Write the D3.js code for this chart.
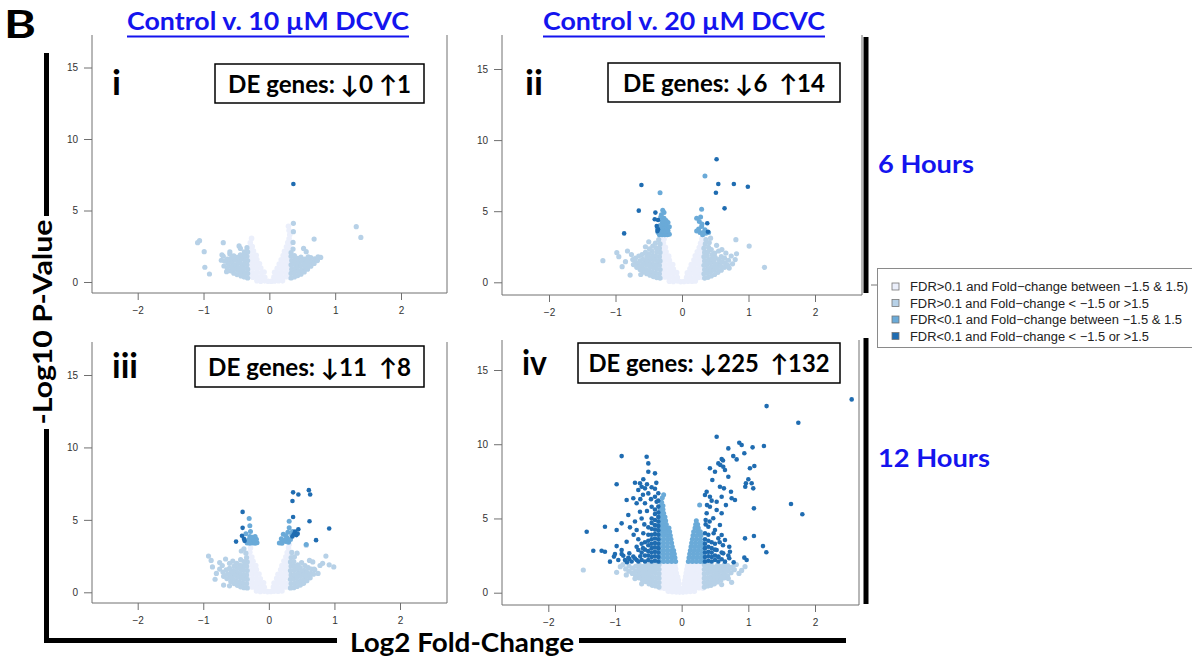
<!DOCTYPE html>
<html>
<head>
<meta charset="utf-8">
<script src="https://cdn.jsdelivr.net/npm/d3@7"></script>
<style>
  html, body { margin: 0; padding: 0; background: #ffffff; }
  svg { display: block; }
</style>
</head>
<body>
<svg id="fig" width="1192" height="658"></svg>
<script>
// ---------- axis ticks and labels ----------
const xTicks = [-2, -1, 0, 1, 2];
const yTicks = [0, 5, 10, 15];
const panelNumerals = ["i", "ii", "iii", "iv"];
const deDown = [0, 6, 11, 225];
const deUp = [1, 14, 8, 132];
const columnTitles = ["Control v. 10 \u00B5M DCVC", "Control v. 20 \u00B5M DCVC"];
const rowTitles = ["6 Hours", "12 Hours"];
const legendLabels = [
  "FDR>0.1 and Fold\u2212change between \u22121.5 & 1.5)",
  "FDR>0.1 and Fold\u2212change < \u22121.5 or >1.5",
  "FDR<0.1 and Fold\u2212change between \u22121.5 & 1.5",
  "FDR<0.1 and Fold\u2212change < \u22121.5 or >1.5"
];

// ---------- genes: [log2 fold-change, -log10 p-value] ----------
// Panel i: 6 h, 10 uM
const p1Ns = [[-0.19,0.09],[-0.13,0.06],[-0.07,0.08],[-0.02,0.05],[0.03,0.05],[0.08,0.07],[0.14,0.09],[0.2,0.08],
  [-0.31,0.36],[-0.25,0.33],[-0.19,0.37],[-0.13,0.34],[-0.07,0.32],[0.07,0.34],[0.13,0.36],[0.19,0.33],[0.25,0.37],[0.31,0.34],
  [-0.31,0.66],[-0.25,0.63],[-0.19,0.67],[-0.12,0.64],[-0.08,0.7],[0.08,0.68],[0.13,0.63],[0.19,0.66],[0.25,0.64],[0.31,0.67],
  [-0.31,0.95],[-0.25,0.97],[-0.19,0.94],[-0.13,0.98],[0.12,0.96],[0.18,0.93],[0.24,0.97],[0.3,0.95],
  [-0.31,1.24],[-0.25,1.27],[-0.19,1.25],[-0.15,1.28],[0.15,1.26],[0.2,1.23],[0.25,1.27],[0.31,1.25],
  [-0.31,1.55],[-0.25,1.53],[-0.19,1.57],[0.18,1.55],[0.24,1.58],[0.3,1.54],
  [-0.3,1.86],[-0.25,1.83],[-0.2,1.87],[0.21,1.85],[0.26,1.88],[0.31,1.84],
  [-0.3,2.15],[-0.24,2.17],[0.23,2.14],[0.28,2.17],
  [-0.29,2.45],[-0.26,2.48],[0.26,2.46],[0.31,2.44],
  [-0.29,2.74],[0.28,2.76],[0.31,2.73],
  [-0.27,3.05],[0.3,3.02],[0.31,3.3],[0.3,3.6],[0.29,3.9]];
const p1Fc = [[-0.33,0.28],[-0.33,0.6],[-0.33,0.9],[-0.34,1.2],[-0.33,1.5],[-0.34,1.8],[-0.33,2.1],[-0.34,2.4],
  [-0.38,0.35],[-0.38,0.65],[-0.39,0.95],[-0.38,1.25],[-0.38,1.55],[-0.39,1.85],[-0.38,2.1],
  [-0.43,0.42],[-0.44,0.72],[-0.43,1.02],[-0.44,1.32],[-0.43,1.62],[-0.44,1.9],
  [-0.49,0.52],[-0.48,0.82],[-0.49,1.12],[-0.48,1.42],[-0.49,1.72],
  [-0.54,0.62],[-0.53,0.92],[-0.54,1.22],[-0.53,1.52],[-0.54,1.82],
  [-0.59,0.78],[-0.58,1.08],[-0.59,1.38],[-0.58,1.66],[-0.6,1.95],
  [-0.64,0.98],[-0.63,1.3],[-0.64,1.6],[-0.69,1.12],[-0.68,1.46],[-0.7,1.8],[-0.73,1.52],[-0.72,1.9],
  [-1.06,2.89],[-1.09,2.75],[-0.99,2.12],[-0.98,1.03],[-0.91,0.56],[-0.7,2.75],[-0.46,2.52],[-0.44,2.35],[-0.65,0.72],[-0.6,2.1],
  [0.33,0.28],[0.33,0.6],[0.34,0.9],[0.33,1.2],[0.34,1.5],[0.33,1.8],
  [0.38,0.35],[0.38,0.65],[0.39,0.95],[0.38,1.25],[0.39,1.55],[0.38,1.85],
  [0.43,0.45],[0.44,0.75],[0.43,1.05],[0.44,1.35],[0.43,1.65],
  [0.48,0.55],[0.49,0.85],[0.48,1.15],[0.49,1.45],[0.48,1.75],
  [0.53,0.7],[0.54,1.0],[0.53,1.3],[0.54,1.6],[0.58,0.9],[0.59,1.2],[0.58,1.5],[0.59,1.76],
  [0.63,1.1],[0.64,1.4],[0.63,1.7],[0.68,1.3],[0.69,1.62],[0.73,1.5],[0.74,1.76],[0.78,1.72],
  [0.365,4.1],[0.365,3.52],[0.36,2.77],[0.68,3.0],[1.32,3.87],[1.39,3.12],[0.52,2.35],[0.56,2.12],[0.36,2.3],[0.33,2.05]];
const p1Fdr = [];
const p1De = [[0.365,6.85]];

// Panel ii: 6 h, 20 uM
const p2Ns = [[-0.19,0.08],[-0.13,0.06],[-0.07,0.09],[-0.02,0.04],[0.03,0.06],[0.09,0.08],[0.15,0.07],[0.2,0.1],
  [-0.31,0.35],[-0.25,0.38],[-0.19,0.33],[-0.13,0.36],[-0.07,0.34],[0.07,0.35],[0.13,0.33],[0.19,0.37],[0.25,0.34],[0.31,0.36],
  [-0.31,0.64],[-0.25,0.67],[-0.19,0.63],[-0.13,0.66],[-0.08,0.68],[0.08,0.66],[0.13,0.68],[0.19,0.63],[0.25,0.66],[0.31,0.64],
  [-0.31,0.96],[-0.25,0.93],[-0.19,0.97],[-0.13,0.94],[0.12,0.95],[0.18,0.97],[0.24,0.94],[0.31,0.96],
  [-0.31,1.26],[-0.25,1.23],[-0.19,1.27],[-0.14,1.25],[0.14,1.24],[0.2,1.27],[0.26,1.25],[0.31,1.23],
  [-0.31,1.54],[-0.25,1.57],[-0.19,1.55],[0.18,1.56],[0.24,1.53],[0.3,1.57],
  [-0.31,1.85],[-0.25,1.87],[-0.2,1.84],[0.2,1.86],[0.26,1.84],[0.31,1.87],
  [-0.3,2.16],[-0.24,2.14],[0.23,2.15],[0.29,2.17],
  [-0.3,2.44],[-0.25,2.47],[0.26,2.45],[0.31,2.47],
  [-0.28,2.76],[0.28,2.74],[0.31,2.78],
  [-0.27,3.05],[-0.29,3.2],[0.3,3.04],[0.31,3.2]];
const p2Fc = [[-0.33,0.3],[-0.34,0.6],[-0.33,0.9],[-0.34,1.2],[-0.33,1.5],[-0.34,1.8],[-0.33,2.1],[-0.34,2.4],[-0.33,2.7],[-0.35,3.0],
  [-0.38,0.33],[-0.39,0.63],[-0.38,0.93],[-0.39,1.23],[-0.38,1.53],[-0.39,1.83],[-0.38,2.13],[-0.39,2.43],[-0.4,2.75],
  [-0.43,0.4],[-0.44,0.7],[-0.43,1.0],[-0.44,1.3],[-0.43,1.6],[-0.44,1.9],[-0.45,2.2],[-0.44,2.55],
  [-0.48,0.5],[-0.49,0.8],[-0.48,1.1],[-0.49,1.4],[-0.48,1.7],[-0.5,2.0],[-0.49,2.35],
  [-0.53,0.6],[-0.54,0.9],[-0.53,1.2],[-0.54,1.5],[-0.53,1.8],[-0.55,2.1],
  [-0.58,0.72],[-0.59,1.02],[-0.58,1.32],[-0.59,1.62],[-0.6,1.95],
  [-0.63,0.9],[-0.64,1.2],[-0.63,1.5],[-0.65,1.85],[-0.68,1.05],[-0.69,1.38],[-0.7,1.7],
  [-0.73,1.25],[-0.74,1.6],[-0.76,1.95],
  [-1.19,1.52],[-0.98,2.08],[-0.95,1.8],[-0.78,0.51],[-0.85,1.45],[-0.82,2.2],[-0.9,1.1],[-0.62,0.55],[-0.5,2.85],[-0.55,2.5],
  [0.34,0.3],[0.33,0.6],[0.34,0.9],[0.33,1.2],[0.34,1.5],[0.33,1.8],[0.34,2.1],[0.33,2.4],[0.35,2.7],[0.36,3.0],
  [0.39,0.35],[0.38,0.65],[0.39,0.95],[0.38,1.25],[0.39,1.55],[0.38,1.85],[0.39,2.15],[0.4,2.45],[0.41,2.8],[0.43,3.1],
  [0.44,0.45],[0.43,0.75],[0.44,1.05],[0.43,1.35],[0.44,1.65],[0.45,1.95],[0.44,2.3],
  [0.49,0.55],[0.48,0.85],[0.49,1.15],[0.48,1.45],[0.5,1.75],[0.49,2.05],
  [0.54,0.7],[0.53,1.0],[0.54,1.3],[0.55,1.6],[0.55,2.2],
  [0.59,0.85],[0.58,1.15],[0.6,1.45],[0.59,1.8],[0.64,1.05],[0.65,1.35],[0.64,1.7],
  [0.69,1.2],[0.71,1.0],[0.7,1.55],
  [0.81,3.0],[1.01,2.55],[1.24,1.05],[0.82,2.0],[0.8,1.6],[0.76,1.3],[0.74,1.85],[0.6,2.3],[0.66,2.05],[0.52,2.6]];
const p2Fdr = [[-0.33,6.3],[-0.29,5.07],[-0.27,4.9],[-0.31,4.75],[-0.27,4.5],[-0.21,4.2],[-0.23,3.95],[-0.32,4.6],
  [-0.34,3.35],[-0.3,3.35],[-0.26,3.35],[-0.22,3.35],[-0.19,3.38],[-0.33,3.6],[-0.29,3.62],[-0.25,3.6],[-0.21,3.63],
  [-0.31,3.85],[-0.27,3.88],[-0.23,3.85],[-0.19,3.9],[-0.29,4.1],[-0.25,4.12],[-0.33,4.0],[-0.36,3.5],[-0.37,3.8],[-0.24,4.35],[-0.3,4.3],
  [0.22,4.5],[0.26,4.27],[0.295,3.92],[0.22,3.6],[0.27,3.5],[0.32,3.5],[0.345,3.7],[0.295,5.13],[0.345,7.47],
  [0.3,4.1],[0.25,3.75],[0.31,3.35],[0.36,3.45],[0.4,3.5],[0.28,4.6]];
const p2De = [[0.52,8.65],[0.546,6.91],[0.78,6.91],[0.99,6.72],[0.51,6.3],[0.64,5.2],[0.38,4.15],[0.39,3.56],
  [-0.61,6.84],[-0.65,5.04],[-0.87,3.44],[-0.4,4.9],[-0.41,4.43],[-0.36,4.38],[-0.38,3.96],[-0.36,3.72],[-0.37,3.6]];

// Panel iii: 12 h, 10 uM
const p3Ns = [[-0.19,0.09],[-0.13,0.06],[-0.07,0.08],[-0.02,0.05],[0.03,0.06],[0.08,0.08],[0.14,0.07],[0.2,0.09],
  [-0.31,0.34],[-0.25,0.37],[-0.19,0.33],[-0.13,0.36],[-0.07,0.34],[0.07,0.36],[0.13,0.33],[0.19,0.35],[0.25,0.37],[0.31,0.34],
  [-0.31,0.66],[-0.25,0.63],[-0.19,0.67],[-0.13,0.64],[-0.08,0.66],[0.08,0.64],[0.13,0.67],[0.19,0.65],[0.25,0.63],[0.31,0.66],
  [-0.31,0.94],[-0.25,0.97],[-0.19,0.95],[-0.13,0.93],[0.12,0.96],[0.18,0.94],[0.24,0.97],[0.31,0.95],
  [-0.31,1.25],[-0.25,1.27],[-0.19,1.24],[-0.15,1.26],[0.14,1.25],[0.2,1.23],[0.26,1.26],[0.31,1.24],
  [-0.31,1.56],[-0.25,1.54],[-0.19,1.57],[0.18,1.55],[0.24,1.57],[0.3,1.54],
  [-0.31,1.84],[-0.25,1.86],[-0.2,1.85],[0.2,1.84],[0.26,1.87],[0.31,1.85],
  [-0.3,2.16],[-0.24,2.14],[0.23,2.16],[0.29,2.14],
  [-0.3,2.46],[-0.26,2.44],[0.26,2.45],[0.31,2.47],
  [-0.29,2.76],[0.28,2.75],[0.31,2.78],
  [-0.28,3.06],[0.3,3.05],[0.31,3.3]];
const p3Fc = [[-0.33,0.3],[-0.34,0.6],[-0.33,0.9],[-0.34,1.2],[-0.33,1.5],[-0.34,1.8],[-0.33,2.1],[-0.34,2.4],[-0.35,2.7],
  [-0.38,0.32],[-0.39,0.62],[-0.38,0.92],[-0.39,1.22],[-0.38,1.52],[-0.39,1.82],[-0.38,2.12],[-0.38,3.0],
  [-0.43,0.38],[-0.44,0.68],[-0.43,0.98],[-0.44,1.28],[-0.43,1.58],[-0.44,1.88],[-0.42,2.85],[-0.43,2.25],
  [-0.48,0.48],[-0.49,0.78],[-0.48,1.08],[-0.49,1.38],[-0.48,1.68],[-0.49,2.0],
  [-0.53,0.6],[-0.54,0.9],[-0.53,1.2],[-0.54,1.5],[-0.53,1.8],[-0.55,2.15],
  [-0.58,0.75],[-0.59,1.05],[-0.58,1.35],[-0.6,1.65],[-0.6,2.0],
  [-0.64,0.95],[-0.63,1.25],[-0.65,1.55],[-0.66,2.3],[-0.69,1.1],[-0.7,1.4],[-0.71,1.85],
  [-0.92,2.5],[-0.88,2.2],[-0.82,0.9],[-0.75,1.6],[-0.69,0.5],[-0.8,1.3],[-0.86,1.75],[-0.75,2.05],[-0.6,0.45],
  [0.33,0.3],[0.34,0.6],[0.33,0.9],[0.34,1.2],[0.33,1.5],[0.34,1.8],[0.33,2.1],[0.34,2.4],[0.35,2.75],
  [0.38,0.32],[0.39,0.62],[0.38,0.92],[0.39,1.22],[0.38,1.52],[0.39,1.82],[0.38,2.12],[0.39,2.45],
  [0.43,0.4],[0.44,0.7],[0.43,1.0],[0.44,1.3],[0.43,1.6],[0.44,1.9],[0.43,2.7],
  [0.48,0.5],[0.49,0.8],[0.48,1.1],[0.49,1.4],[0.48,1.7],[0.5,2.05],
  [0.53,0.62],[0.54,0.92],[0.53,1.22],[0.54,1.52],[0.55,1.85],
  [0.58,0.8],[0.59,1.1],[0.58,1.4],[0.6,1.7],[0.63,1.0],[0.64,1.3],[0.65,1.6],[0.68,1.25],[0.7,1.55],
  [0.87,2.5],[0.82,2.0],[0.92,1.9],[0.99,1.75],[0.69,1.6],[0.57,1.15],[0.67,2.1],[0.57,3.25],[0.75,1.3],[0.78,1.85],[0.62,2.2]];
const p3Fdr = [[-0.33,3.4],[-0.29,3.38],[-0.25,3.4],[-0.21,3.38],[-0.18,3.42],[-0.31,3.62],[-0.27,3.65],[-0.23,3.62],[-0.19,3.66],
  [-0.29,3.85],[-0.25,3.8],[-0.21,3.85],[-0.3,5.1],[-0.29,4.6],[-0.28,4.2],[-0.35,4.05],
  [0.31,4.9],[0.31,4.45],[0.36,4.2],[0.22,4.0],[0.19,3.7],[0.26,3.5],[0.16,3.4],[0.2,3.38],[0.24,3.6],[0.28,3.75],
  [0.3,3.45],[0.33,3.65],[0.35,3.95],[0.29,4.15],[0.57,3.3],[0.26,3.9]];
const p3De = [[0.37,6.9],[0.45,6.75],[0.61,7.05],[0.63,6.75],[0.36,6.3],[0.37,5.2],[0.62,4.9],[0.92,4.4],[0.72,3.6],
  [0.45,4.35],[0.4,4.2],[0.38,4.0],[0.42,3.95],[0.44,4.05],[0.36,3.85],
  [-0.4,5.55],[-0.4,4.45],[-0.41,3.9],[-0.38,3.7],[-0.5,3.5],[-0.37,3.55]];

// Panel iv: 12 h, 20 uM
const p4Ns = [[-0.2,0.1],[-0.14,0.07],[-0.08,0.05],[-0.03,0.04],[0.02,0.04],[0.07,0.06],[0.13,0.08],[0.19,0.1],
  [-0.32,0.34],[-0.26,0.3],[-0.2,0.32],[-0.14,0.29],[-0.08,0.31],[-0.03,0.3],[0.03,0.31],[0.08,0.29],[0.14,0.32],[0.2,0.3],[0.26,0.33],[0.32,0.31],
  [-0.32,0.58],[-0.26,0.56],[-0.2,0.59],[-0.14,0.55],[-0.08,0.57],[-0.04,0.6],[0.04,0.58],[0.09,0.56],[0.15,0.59],[0.21,0.57],[0.27,0.55],[0.32,0.58],
  [-0.32,0.82],[-0.26,0.84],[-0.2,0.81],[-0.14,0.83],[-0.09,0.8],[-0.05,0.84],[0.05,0.83],[0.1,0.81],[0.16,0.84],[0.22,0.82],[0.28,0.8],[0.32,0.83],
  [-0.32,1.07],[-0.26,1.05],[-0.2,1.08],[-0.14,1.06],[-0.09,1.09],[-0.06,1.05],[0.06,1.08],[0.1,1.06],[0.16,1.05],[0.22,1.08],[0.28,1.06],[0.32,1.07],
  [-0.32,1.32],[-0.26,1.34],[-0.2,1.31],[-0.14,1.33],[-0.08,1.3],[0.07,1.33],[0.12,1.31],[0.18,1.34],[0.24,1.32],[0.3,1.3],
  [-0.32,1.56],[-0.26,1.58],[-0.2,1.55],[-0.14,1.57],[-0.09,1.59],[0.08,1.57],[0.13,1.55],[0.19,1.58],[0.25,1.56],[0.31,1.58],
  [-0.32,1.83],[-0.26,1.81],[-0.2,1.84],[-0.14,1.82],[-0.1,1.8],[0.09,1.82],[0.14,1.84],[0.2,1.81],[0.26,1.83],[0.32,1.8]];
const p4Fc = [[-0.34,0.38],[-0.34,0.68],[-0.34,0.98],[-0.34,1.28],[-0.34,1.58],[-0.34,1.88],
  [-0.39,0.45],[-0.39,0.72],[-0.39,1.02],[-0.39,1.32],[-0.39,1.62],[-0.39,1.9],
  [-0.44,0.5],[-0.44,0.78],[-0.44,1.08],[-0.44,1.38],[-0.44,1.66],[-0.44,1.92],
  [-0.49,0.6],[-0.49,0.88],[-0.49,1.16],[-0.49,1.44],[-0.49,1.72],[-0.49,1.95],
  [-0.54,0.75],[-0.54,1.02],[-0.54,1.3],[-0.54,1.58],[-0.54,1.85],
  [-0.59,0.88],[-0.59,1.16],[-0.59,1.45],[-0.59,1.75],[-0.64,1.0],[-0.64,1.3],[-0.64,1.6],[-0.64,1.9],
  [-0.69,1.15],[-0.69,1.45],[-0.69,1.78],[-0.74,1.3],[-0.74,1.65],[-0.79,1.45],[-0.79,1.8],[-0.84,1.6],
  [-1.475,1.53],[-0.975,1.37],[-0.83,1.2],[-0.88,1.9],[-0.92,1.75],[-0.7,0.95],[-0.6,0.6],
  [0.34,0.38],[0.34,0.68],[0.34,0.98],[0.34,1.28],[0.34,1.58],[0.34,1.88],
  [0.39,0.45],[0.39,0.72],[0.39,1.02],[0.39,1.32],[0.39,1.62],[0.39,1.9],
  [0.44,0.5],[0.44,0.78],[0.44,1.08],[0.44,1.38],[0.44,1.66],[0.44,1.92],
  [0.49,0.6],[0.49,0.88],[0.49,1.16],[0.49,1.44],[0.49,1.72],
  [0.54,0.72],[0.54,1.0],[0.54,1.3],[0.54,1.58],[0.54,1.86],
  [0.59,0.85],[0.59,1.15],[0.59,1.45],[0.59,1.75],[0.64,1.0],[0.64,1.3],[0.64,1.6],[0.64,1.9],
  [0.69,1.15],[0.69,1.5],[0.69,1.82],[0.74,1.35],[0.74,1.7],[0.79,1.55],[0.79,1.88],
  [0.75,0.7],[0.9,1.5],[0.95,1.75],[0.82,1.9],[0.86,1.3],[0.6,0.55],[0.7,0.95]];
const p4Fdr = [[-0.33,2.1],[-0.27,2.1],[-0.21,2.1],[-0.15,2.1],[-0.09,2.1],
  [-0.33,2.35],[-0.27,2.35],[-0.21,2.35],[-0.15,2.35],[-0.1,2.35],
  [-0.33,2.6],[-0.27,2.6],[-0.21,2.6],[-0.15,2.6],[-0.11,2.6],
  [-0.33,2.85],[-0.27,2.85],[-0.21,2.85],[-0.15,2.85],[-0.12,2.85],
  [-0.33,3.1],[-0.27,3.1],[-0.21,3.1],[-0.14,3.1],
  [-0.33,3.35],[-0.27,3.35],[-0.21,3.35],[-0.15,3.35],
  [-0.33,3.6],[-0.27,3.6],[-0.21,3.6],[-0.16,3.6],
  [-0.33,3.85],[-0.27,3.85],[-0.22,3.85],[-0.17,3.85],
  [-0.33,4.1],[-0.28,4.1],[-0.23,4.1],[-0.18,4.1],
  [-0.33,4.35],[-0.28,4.35],[-0.23,4.35],[-0.19,4.35],
  [-0.33,4.6],[-0.28,4.6],[-0.23,4.6],[-0.33,4.85],[-0.28,4.85],[-0.24,4.85],
  [-0.33,5.1],[-0.29,5.1],[-0.25,5.1],[-0.32,5.35],[-0.27,5.35],[-0.32,5.6],[-0.28,5.6],
  [-0.31,5.85],[-0.28,5.85],[-0.3,6.1],[-0.29,6.4],[-0.27,6.6],
  [0.1,2.1],[0.16,2.1],[0.22,2.1],[0.28,2.1],[0.33,2.1],
  [0.11,2.35],[0.17,2.35],[0.23,2.35],[0.29,2.35],[0.33,2.35],
  [0.12,2.6],[0.18,2.6],[0.24,2.6],[0.3,2.6],[0.13,2.85],[0.19,2.85],[0.25,2.85],[0.31,2.85],
  [0.14,3.1],[0.2,3.1],[0.26,3.1],[0.32,3.1],[0.15,3.35],[0.21,3.35],[0.27,3.35],[0.32,3.35],
  [0.16,3.6],[0.22,3.6],[0.28,3.6],[0.17,3.85],[0.23,3.85],[0.29,3.85],
  [0.18,4.1],[0.24,4.1],[0.28,4.1],[0.2,4.35],[0.25,4.35],[0.21,4.6],[0.24,4.6],[0.22,4.85],[0.27,5.9]];
const p4De = [
  [2.55,13.02],[1.274,12.57],[1.75,11.45],[1.234,9.88],[1.64,5.97],[1.81,5.28],[1.22,3.14],[1.27,2.72],[1.084,5.68],[1.084,3.82],
  [0.95,3.66],[0.94,2.36],[0.975,2.2],[0.525,10.5],[0.864,10.1],[0.9,9.95],[0.7,9.72],[1.064,9.79],[0.774,9.2],[0.94,9.39],
  [0.825,8.98],[0.6,9.0],[0.55,8.71],[0.424,8.38],[0.624,8.48],[0.65,8.26],[0.5,8.15],[1.09,8.53],[1.024,8.38],
  [0.46,7.59],[0.7,7.81],[1.0,7.64],[0.964,7.37],[1.05,7.37],[0.954,7.14],[1.074,7.03],[0.574,7.14],[0.634,7.03],[0.74,6.8],
  [0.375,6.8],[0.35,6.58],[0.424,6.46],[0.6,6.46],[0.525,6.13],[0.75,6.36],[0.8,6.24],[0.664,5.9],[0.424,5.79],[0.525,5.57],
  [0.375,5.35],[0.6,5.35],[0.474,5.01],[0.574,4.56],[0.4,4.44],[0.5,4.22],[0.6,3.89],[0.65,3.55],[0.55,3.66],[0.714,3.1],
  [0.525,2.88],[0.624,2.65],[0.724,2.76],[0.714,2.32],[0.65,2.09],[0.55,2.43],
  [0.62,8.9],[0.58,8.6],[0.45,6.2],[0.38,5.9],[0.36,4.9],[0.42,4.8],[0.48,4.0],[0.36,4.6],[0.7,2.5],[0.78,2.05],[0.62,3.2],[0.57,3.4],
  [0.35,2.1],[0.35,2.4],[0.35,2.7],[0.35,3.0],[0.35,3.3],[0.35,3.6],[0.35,4.0],
  [0.4,2.15],[0.4,2.45],[0.4,2.75],[0.4,3.1],[0.4,3.5],[0.4,3.9],
  [0.45,2.1],[0.45,2.4],[0.45,2.7],[0.45,3.0],[0.45,3.4],[0.5,2.2],[0.5,2.5],[0.5,2.9],[0.5,3.3],
  [0.55,2.1],[0.55,2.4],[0.6,2.25],[0.6,2.7],
  [-0.9,9.2],[-0.525,9.16],[-0.5,8.71],[-0.5,8.15],[-0.4,8.04],[-0.975,7.3],[-0.7,7.41],[-0.575,7.64],[-0.625,7.37],[-0.6,7.14],
  [-0.55,7.03],[-0.65,6.92],[-0.5,6.69],[-0.4,6.46],[-0.825,6.24],[-0.725,6.36],[-0.675,6.02],[-0.55,6.02],[-0.375,6.13],[-0.45,5.79],
  [-0.625,5.45],[-0.8,5.23],[-0.975,4.22],[-1.15,4.44],[-1.424,4.11],[-0.9,4.67],[-0.775,4.4],[-0.675,4.22],[-0.575,4.0],[-0.975,3.14],
  [-0.825,3.43],[-1.2,2.83],[-1.15,2.76],[-1.325,2.83],[-1.075,2.09],[-1.015,2.43],[-0.95,2.2],[-0.9,2.88],[-0.875,2.49],[-0.785,2.65],
  [-0.725,2.43],[-0.85,2.2],[-0.785,2.27],[-0.675,3.1],[-0.65,2.88],[-0.675,2.2],
  [-0.52,7.3],[-0.45,7.1],[-0.58,6.6],[-0.62,6.3],[-0.52,5.5],[-0.6,5.0],[-0.7,4.8],[-0.56,4.6],[-0.65,3.6],[-0.72,3.9],
  [-0.6,3.3],[-0.9,2.6],[-1.0,2.6],[-0.82,2.05],[-0.35,6.7],[-0.4,7.0],[-0.46,6.3],[-0.38,7.4],
  [-0.35,2.1],[-0.35,2.4],[-0.35,2.7],[-0.35,3.0],[-0.35,3.3],[-0.35,3.6],[-0.35,3.9],[-0.35,4.2],[-0.35,4.5],[-0.35,4.8],
  [-0.35,5.1],[-0.35,5.4],[-0.35,5.8],[-0.35,6.2],
  [-0.4,2.15],[-0.4,2.45],[-0.4,2.75],[-0.4,3.05],[-0.4,3.35],[-0.4,3.65],[-0.4,3.95],[-0.4,4.25],[-0.4,4.55],[-0.4,4.9],[-0.4,5.3],[-0.4,5.6],
  [-0.45,2.1],[-0.45,2.4],[-0.45,2.7],[-0.45,3.0],[-0.45,3.3],[-0.45,3.6],[-0.45,3.9],[-0.45,4.3],[-0.45,4.7],[-0.45,5.0],
  [-0.5,2.2],[-0.5,2.5],[-0.5,2.8],[-0.5,3.2],[-0.5,3.5],[-0.5,3.9],[-0.5,4.4],
  [-0.55,2.1],[-0.55,2.5],[-0.55,2.9],[-0.55,3.4],[-0.6,2.2],[-0.6,2.7],
  [-0.65,2.1],[-0.7,2.3],[-0.75,2.1],[-0.8,2.35],[-0.62,2.45],[-0.58,3.0]];

// ---------- drawing ----------
const svg = d3.select("#fig");
const catColors = { ns: "#ebeffb", fc: "#b7d1e7", fdr: "#6aaad8", de: "#1f6cb1" };
const catRadius = { ns: 2.8, fc: 2.6, fdr: 2.5, de: 2.3 };
const legendColors = [catColors.ns, catColors.fc, catColors.fdr, catColors.de];
const legendWidths = [278, 239, 272, 239];
const boldFont = "Lato, 'Open Sans', 'DejaVu Sans', sans-serif";
const plainFont = "'Liberation Sans', Arial, sans-serif";

const panels = [
  { box: { l: 92,  r: 447, t: 35,  b: 293 }, xr: [137.7, 401], yr: [282, 67.5],
    data: { ns: p1Ns, fc: p1Fc, fdr: p1Fdr, de: p1De },
    num: { x: 112, y: 95, w: 9 }, deBox: { x: 215, y: 64, w: 209, h: 39, base: 93, tl: 183 } },
  { box: { l: 502, r: 862, t: 35,  b: 295 }, xr: [549, 815], yr: [282.3, 69],
    data: { ns: p2Ns, fc: p2Fc, fdr: p2Fdr, de: p2De },
    num: { x: 525, y: 95, w: 18 }, deBox: { x: 608, y: 63, w: 232, h: 39, base: 92, tl: 202 } },
  { box: { l: 92,  r: 447, t: 342, b: 603 }, xr: [137.7, 400], yr: [592.3, 375],
    data: { ns: p3Ns, fc: p3Fc, fdr: p3Fdr, de: p3De },
    num: { x: 112, y: 378, w: 26 }, deBox: { x: 195, y: 346, w: 229, h: 41, base: 376, tl: 203 } },
  { box: { l: 502, r: 859, t: 340, b: 605 }, xr: [548.3, 815], yr: [592.7, 370],
    data: { ns: p4Ns, fc: p4Fc, fdr: p4Fdr, de: p4De },
    num: { x: 522, y: 375, w: 25 }, deBox: { x: 578, y: 343, w: 262, h: 40, base: 372, tl: 241 } }
];

const minus = d => (d < 0 ? "\u2212" + Math.abs(d) : String(d));

panels.forEach((p, i) => {
  const g = svg.append("g").attr("class", "panel");
  const x = d3.scaleLinear().domain([-2, 2]).range(p.xr);
  const y = d3.scaleLinear().domain([0, 15]).range(p.yr);

  // genes, lightest category first so significant ones sit on top
  ["ns", "fc", "fdr", "de"].forEach(cat => {
    g.append("g").selectAll("circle").data(p.data[cat]).join("circle")
      .attr("cx", d => x(d[0])).attr("cy", d => y(d[1]))
      .attr("r", catRadius[cat]).attr("fill", catColors[cat]);
  });

  // open-top frame
  g.append("path")
    .attr("d", `M${p.box.l},${p.box.t}V${p.box.b}H${p.box.r}V${p.box.t}`)
    .attr("fill", "none").attr("stroke", "#707070").attr("stroke-width", 1);

  const xa = g.append("g").attr("transform", `translate(0,${p.box.b})`)
    .call(d3.axisBottom(x).tickValues(xTicks).tickSize(7).tickPadding(7).tickFormat(minus));
  const ya = g.append("g").attr("transform", `translate(${p.box.l},0)`)
    .call(d3.axisLeft(y).tickValues(yTicks).tickSize(8).tickPadding(6));
  [xa, ya].forEach(a => {
    a.select(".domain").remove();
    a.selectAll(".tick line").attr("stroke", "#707070");
    a.selectAll(".tick text").attr("fill", "#333").style("font-family", plainFont).style("font-size", "10px");
  });

  // panel numeral
  g.append("text").attr("x", p.num.x).attr("y", p.num.y)
    .attr("textLength", p.num.w).attr("lengthAdjust", "spacingAndGlyphs")
    .style("font-family", boldFont).style("font-weight", 700).style("font-size", "34px")
    .text(panelNumerals[i]);

  // differential-expression count box
  g.append("rect").attr("x", p.deBox.x).attr("y", p.deBox.y).attr("width", p.deBox.w).attr("height", p.deBox.h)
    .attr("fill", "#fff").attr("stroke", "#000").attr("stroke-width", 1.5);
  const gap = i === 0 ? " " : "\u00A0\u00A0";
  g.append("text").attr("x", p.deBox.x + p.deBox.w / 2).attr("y", p.deBox.base)
    .attr("text-anchor", "middle").attr("textLength", p.deBox.tl).attr("lengthAdjust", "spacingAndGlyphs")
    .style("font-family", boldFont).style("font-weight", 700).style("font-size", "24px")
    .text(`DE genes: \u2193${deDown[i]}${gap}\u2191${deUp[i]}`);
});

// figure letter
svg.append("text").attr("x", 4).attr("y", 38).attr("textLength", 32).attr("lengthAdjust", "spacingAndGlyphs")
  .style("font-family", boldFont).style("font-weight", 700).style("font-size", "38px").text("B");

// column titles (underlined, blue)
[268, 684].forEach((cx, i) => {
  const w = 282;
  svg.append("text").attr("x", cx).attr("y", 30).attr("text-anchor", "middle")
    .attr("textLength", w).attr("lengthAdjust", "spacingAndGlyphs")
    .style("font-family", boldFont).style("font-weight", 700).style("font-size", "24px")
    .attr("fill", "#1414ee").text(columnTitles[i]);
  svg.append("line").attr("x1", cx - w / 2).attr("x2", cx + w / 2).attr("y1", 36.5).attr("y2", 36.5)
    .attr("stroke", "#1414ee").attr("stroke-width", 2);
});

// row titles
[[878, 173], [878, 467]].forEach((pos, i) => {
  svg.append("text").attr("x", pos[0]).attr("y", pos[1])
    .attr("textLength", i === 0 ? 96 : 112).attr("lengthAdjust", "spacingAndGlyphs")
    .style("font-family", boldFont).style("font-weight", 700).style("font-size", "24px")
    .attr("fill", "#1414ee").text(rowTitles[i]);
});

// brackets
function bracket(d) {
  svg.append("path").attr("d", d).attr("fill", "none").attr("stroke", "#000").attr("stroke-width", 5);
}
bracket("M46.5,53V216");
bracket("M46.5,429V640.5H337");
bracket("M579,640.5H846");
bracket("M866,37V293");
bracket("M866,338V604");

// shared axis titles
svg.append("text").attr("transform", "translate(52,322) rotate(-90)").attr("text-anchor", "middle")
  .attr("textLength", 205).attr("lengthAdjust", "spacingAndGlyphs")
  .style("font-family", boldFont).style("font-weight", 700).style("font-size", "26px")
  .text("-Log10 P-Value");
svg.append("text").attr("x", 462).attr("y", 652).attr("text-anchor", "middle")
  .attr("textLength", 224).attr("lengthAdjust", "spacingAndGlyphs")
  .style("font-family", boldFont).style("font-weight", 700).style("font-size", "26px")
  .text("Log2 Fold-Change");

// legend
const lg = svg.append("g");
lg.append("rect").attr("x", 877.5).attr("y", 268.5).attr("width", 330).attr("height", 79)
  .attr("fill", "#fff").attr("stroke", "#8a8a8a").attr("stroke-width", 1);
lg.append("line").attr("x1", 871).attr("x2", 877).attr("y1", 285).attr("y2", 285).attr("stroke", "#777");
legendLabels.forEach((t, k) => {
  const cy = 286.5 + k * 16.5;
  lg.append("rect").attr("x", 892).attr("y", cy - 3.5).attr("width", 7).attr("height", 7)
    .attr("fill", legendColors[k]).attr("stroke", "#777").attr("stroke-width", 0.8);
  lg.append("text").attr("x", 910).attr("y", cy + 4.5)
    .attr("textLength", legendWidths[k]).attr("lengthAdjust", "spacingAndGlyphs")
    .style("font-family", plainFont).style("font-size", "12.5px").attr("fill", "#222").text(t);
});
</script>
</body>
</html>
